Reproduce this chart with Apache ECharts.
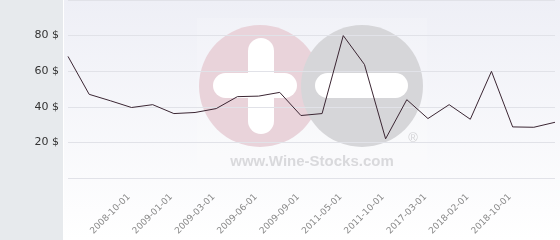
<!DOCTYPE html>
<html><head><meta charset="utf-8">
<script src="https://cdn.jsdelivr.net/npm/echarts@6/dist/echarts.min.js"></script>
<style>html,body{margin:0;padding:0;background:#fff}#c{width:560px;height:240px}</style>
</head><body><div id="c"></div>
<script>
const categories = ["2008-06-01","2008-08-01","2008-10-01","2008-12-01","2009-01-01","2009-02-01","2009-03-01","2009-05-01","2009-06-01","2009-07-01","2009-09-01","2010-06-01","2011-05-01","2011-07-01","2011-10-01","2012-03-01","2017-03-01","2017-09-01","2018-02-01","2018-05-01","2018-10-01","2019-01-01","2019-04-01","2019-07-01"];
const prices = [68.3,47.0,43.4,39.6,41.2,36.2,36.8,39.0,45.7,46.0,48.1,35.1,36.2,80.0,63.8,22.0,44.0,33.4,41.2,33.0,59.9,28.7,28.5,31.3];
const yTicks = [0,20,40,60,80,100];
const labeledDates = ["2008-10-01","2009-01-01","2009-03-01","2009-06-01","2009-09-01","2011-05-01","2011-10-01","2017-03-01","2018-02-01","2018-10-01"];

const chart = echarts.init(document.getElementById('c'), null, {renderer:'canvas'});
chart.setOption({
  animation:false,
  grid:{left:68,right:5,top:-0.75,bottom:62,containLabel:false},
  graphic:[
    {type:'rect',z:-10,silent:true,shape:{x:0,y:0,width:63,height:240},style:{fill:'#e7eaed'}},
    {type:'rect',z:-10,silent:true,shape:{x:64,y:0,width:496,height:240},
      style:{fill:new echarts.graphic.LinearGradient(0,0,0,1,[{offset:0,color:'#eeeff6'},{offset:1,color:'#ffffff'}])}},
    {type:'rect',z:-9,silent:true,shape:{x:197,y:18,width:230,height:155},style:{fill:'rgba(255,255,255,0.15)'}},
    {type:'circle',z:-8,silent:true,shape:{cx:260,cy:86,r:61},style:{fill:'#e9d3da'}},
    {type:'circle',z:-8,silent:true,shape:{cx:362,cy:86,r:61},style:{fill:'#d6d6d9'}},
    {type:'rect',z:-7,silent:true,shape:{x:248,y:38,width:26,height:96,r:13},style:{fill:'#ffffff'}},
    {type:'rect',z:-7,silent:true,shape:{x:213,y:73,width:84,height:25,r:12.5},style:{fill:'#ffffff'}},
    {type:'rect',z:-7,silent:true,shape:{x:315,y:73,width:93,height:25,r:12.5},style:{fill:'#ffffff'}},
    {type:'text',z:-7,silent:true,style:{x:413,y:138,text:'®',fill:'#d3d3d6',font:'13px "Liberation Sans"',align:'center',verticalAlign:'middle'}},
    {type:'text',z:-7,silent:true,style:{x:312,y:162,text:'www.Wine-Stocks.com',fill:'#d9d9dc',font:'bold 15px "Liberation Sans"',align:'center',verticalAlign:'middle'}}
  ],
  xAxis:{type:'category',data:categories,boundaryGap:false,
    axisLine:{show:false},axisTick:{show:false},
    splitLine:{show:false},
    axisLabel:{rotate:45,align:'center',verticalAlign:'middle',margin:36,color:'#888',fontSize:9,fontFamily:'DejaVu Sans',
      interval:(i,v)=>labeledDates.includes(v)}
  },
  yAxis:{type:'value',min:yTicks[0],max:yTicks[yTicks.length-1],interval:20,
    axisLine:{show:false},axisTick:{show:false},
    splitLine:{lineStyle:{color:'#e1e2e8',width:1}},
    axisLabel:{margin:9,color:'#333',fontSize:11,fontFamily:'DejaVu Sans',
      formatter:v=>(v===0||v===100)?'':v+' $'}
  },
  series:[{type:'line',data:prices,symbol:'none',lineStyle:{color:'#3b2633',width:1}}]
});
</script></body></html>
